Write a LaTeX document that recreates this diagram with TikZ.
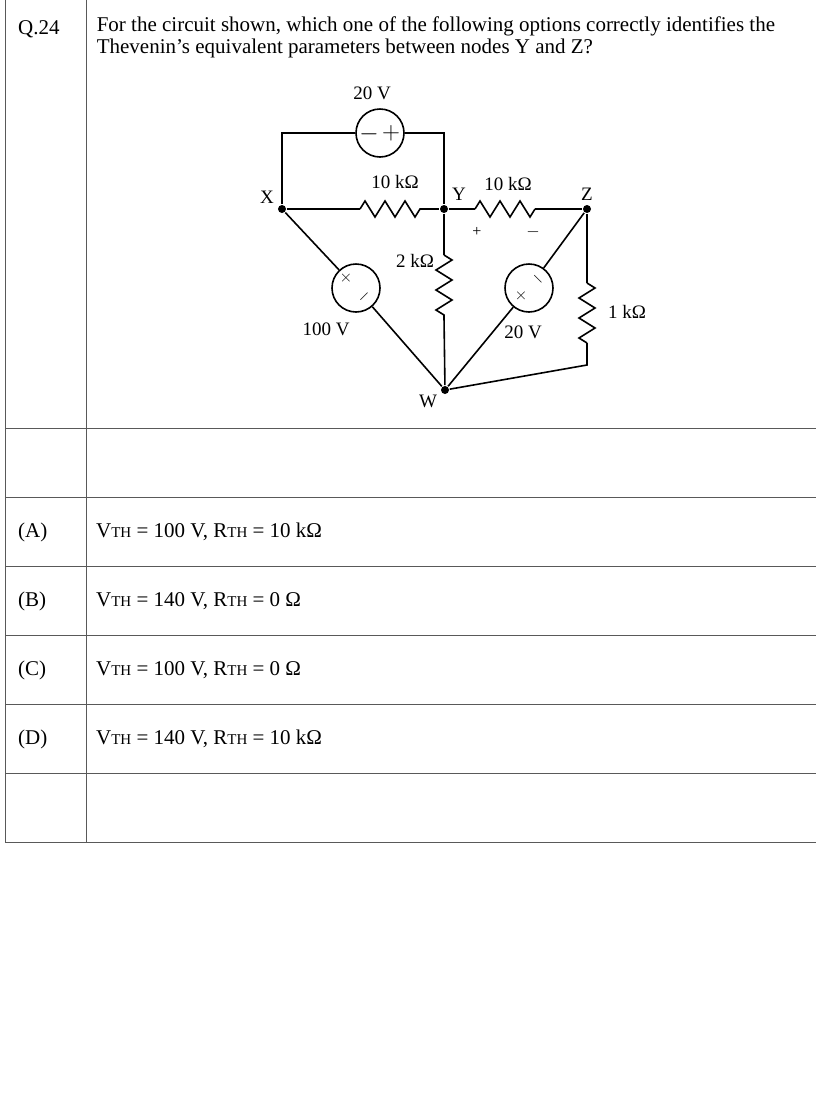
\documentclass[tikz,border=0pt]{standalone}
\usepackage{fontspec}
\setmainfont{Liberation Serif}
\usetikzlibrary{decorations.pathmorphing}
\begin{document}
\begin{tikzpicture}[x=1pt,y=-1pt,line width=1.6pt,
  every node/.style={font=\fontsize{19}{22}\selectfont},
  res/.style={decorate,decoration={zigzag,segment length=20pt,amplitude=8pt}},
  src/.style={draw,circle,minimum size=48pt,inner sep=0pt,fill=white},
  sgn/.style={font=\fontsize{18}{18}\selectfont,inner sep=0pt},
  dot/.style={circle,fill,inner sep=0pt,minimum size=8pt}]
\useasboundingbox (0,0) rectangle (816,1093);
% table
\begin{scope}[line width=0.7pt,gray!70!black]
\draw (5,0) -- (5,842) -- (816,842);
\draw (86,0) -- (86,842);
\foreach \y in {428,497,566,635,704,773} \draw (5,\y) -- (816,\y);
\end{scope}
\node[anchor=west,font=\fontsize{21}{24}\selectfont] at (14,29) {Q.24};
\node[anchor=north west,align=left,inner sep=0pt,font=\fontsize{21}{22}\selectfont] at (96,16) {For the circuit shown, which one of the following options correctly identifies the\\Thevenin's equivalent parameters between nodes Y and Z?};
\foreach \l/\y/\v/\r in {A/532/100/10 kΩ,B/601/140/0 Ω,C/670/100/0 Ω,D/739/140/10 kΩ}{
  \node[anchor=west,font=\fontsize{21}{24}\selectfont] at (14,\y) {(\l)};
  \node[anchor=west,font=\fontsize{21}{24}\selectfont] at (92,\y) {V{\fontsize{15}{16}\selectfont TH} = \v{} V, R{\fontsize{15}{16}\selectfont TH} = \r};
}
% circuit
\node[dot] (X) at (282,209) {};
\node[dot] (Y) at (444,209) {};
\node[dot] (Z) at (587,209) {};
\node[dot] (W) at (445,390) {};
\coordinate (tl) at (282,133);
\coordinate (tr) at (444,133);
\node[src] (s1) at (380,133) {};
\node[sgn,font=\fontsize{26}{26}\selectfont] at (369,134) {$-$};
\node[sgn,font=\fontsize{26}{26}\selectfont] at (391,133) {$+$};
\node at (372,93) {20 V};
\draw (X) -- (tl) -- (s1) -- (tr) -- (Y);
\draw (X) -- (360,209);
\draw[res] (360,209) -- (422,209);
\draw (422,209) -- (Y) -- (475,209);
\draw[res] (475,209) -- (535,209);
\draw (535,209) -- (Z);
\node at (395,182) {10 kΩ};
\node at (508,184) {10 kΩ};
\node at (267,197) {X};
\node at (459,194) {Y};
\node at (587,194) {Z};
\node at (428,401) {W};
\node[font=\fontsize{16}{16}\selectfont] at (477,232) {+};
\node[font=\fontsize{16}{16}\selectfont] at (533,232) {$-$};
% 100 V source
\node[src] (s2) at (356,288) {};
\node[sgn,rotate=45] at (346,278) {$+$};
\node[sgn,rotate=45] at (364,297) {$-$};
\draw (X) -- (s2) -- (W);
\node at (326,329) {100 V};
% 2k
\draw (Y) -- (444,255);
\draw[res] (444,255) -- (444,317);
\draw (444,317) -- (W);
\node at (415,261) {2 kΩ};
% 20 V lower source
\node[src] (s3) at (529,288) {};
\node[sgn,rotate=-45] at (521,296) {$+$};
\node[sgn,rotate=-45] at (538,279) {$-$};
\draw (Z) -- (s3) -- (W);
\node at (523,332) {20 V};
% 1k
\draw (Z) -- (587,283);
\draw[res] (587,283) -- (587,343);
\draw (587,343) -- (587,365) -- (W);
\node at (627,312) {1 kΩ};
\end{tikzpicture}
\end{document}
